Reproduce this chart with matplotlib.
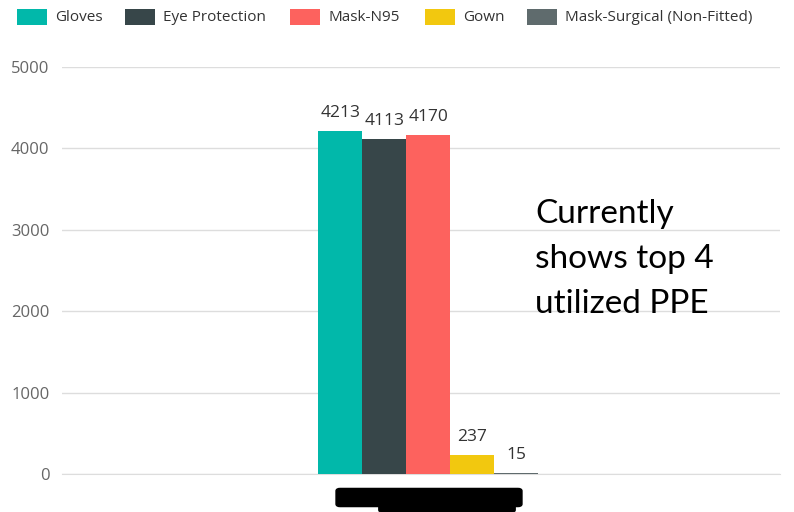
import matplotlib
matplotlib.use("Agg")
import matplotlib.pyplot as plt
from matplotlib.patches import FancyBboxPatch, Rectangle

# Data
series = ["Gloves", "Eye Protection", "Mask-N95", "Gown", "Mask-Surgical (Non-Fitted)"]
values = [4213, 4113, 4170, 237, 15]
colors = ["#01B8AA", "#374649", "#FD625E", "#F2C80F", "#5F6B6D"]
yticks = [0, 1000, 2000, 3000, 4000, 5000]
note_lines = ["Currently", "shows top 4", "utilized PPE"]

plt.rcParams["font.family"] = ["Open Sans", "DejaVu Sans"]

W, H = 794, 512
fig = plt.figure(figsize=(W / 100, H / 100), dpi=100)
ax = fig.add_axes([62/W, 38/H, (780-62)/W, (474-67)/H])

bw = 44/718
n = len(values)
center = 0.0
for i, (s, v, c) in enumerate(zip(series, values, colors)):
    x = center + (i - (n - 1) / 2) * bw
    ax.bar(x, v, width=bw, color=c, label=s, zorder=3)
    ax.annotate(f"{v}", (x, v), xytext=(0, 10), textcoords="offset points",
                ha="center", va="baseline", fontsize=12.5, color="#333333", zorder=4)

ax.set_xlim(-0.51, 0.49)
ax.set_ylim(0, 5000)
ax.set_yticks(yticks)
ax.set_yticklabels([str(t) for t in yticks])
ax.tick_params(axis="y", length=0, pad=9, labelsize=12, labelcolor="#666666")
ax.set_xticks([])
ax.grid(axis="y", color="#DDDDDD", linewidth=1, zorder=0)
ax.set_axisbelow(True)
for sp in ax.spines.values():
    sp.set_visible(False)
ax.spines["bottom"].set_visible(True)
ax.spines["bottom"].set_color("#DDDDDD")

# legend laid out like the reference
patch_x = [17, 125, 290, 425, 527]
for px, s, c in zip(patch_x, series, colors):
    fig.patches.append(Rectangle((px / W, 1 - 25 / H), 30 / W, 16 / H,
                                 transform=fig.transFigure, facecolor=c, edgecolor="none"))
    fig.text((px + 38) / W, 1 - 17.5 / H, s, fontsize=11, color="#333333",
             ha="left", va="center")

# annotation text
baselines = [223, 268, 313]
for yb, line in zip(baselines, note_lines):
    fig.text(535 / W, 1 - yb / H, line, fontsize=24,
             family=["Lato", "DejaVu Sans"], color="black",
             va="baseline", ha="left")

# redaction scribble under the category axis
fig.patches.append(FancyBboxPatch((340 / W, 1 - 504 / H), 178 / W, 13 / H,
                                  boxstyle="round,pad=0.005", transform=fig.transFigure,
                                  facecolor="black", edgecolor="black"))
fig.patches.append(FancyBboxPatch((382 / W, 1 - 510 / H), 130 / W, 10 / H,
                                  boxstyle="round,pad=0.004", transform=fig.transFigure,
                                  facecolor="black", edgecolor="black"))

fig.savefig("out.png", dpi=100)
